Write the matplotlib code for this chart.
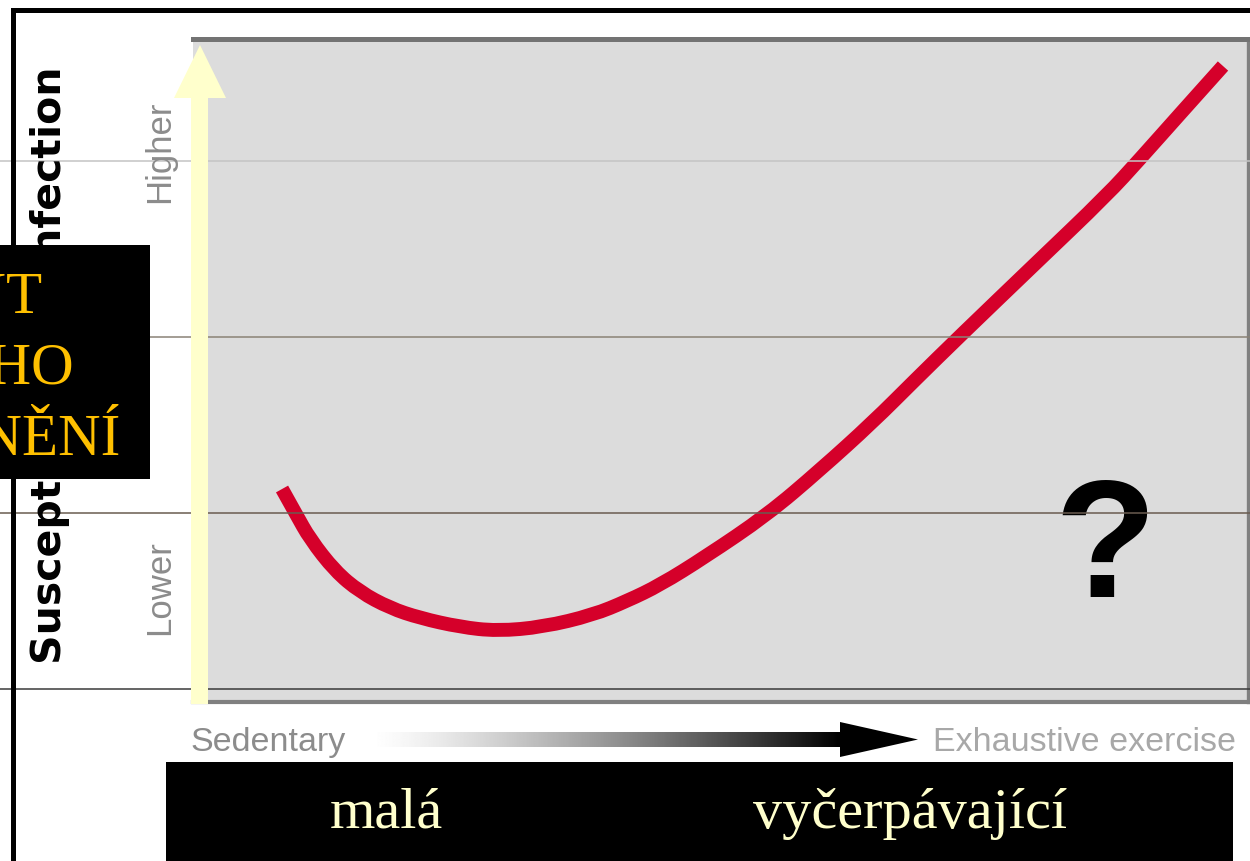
import matplotlib
matplotlib.use("Agg")
import matplotlib.pyplot as plt
from matplotlib.patches import Rectangle, Polygon, PathPatch
from matplotlib.path import Path
import numpy as np

# ---- data (exercise level 0-100 vs susceptibility 0-100) ----
exercise = [8.44, 9.76, 11.09, 13.46, 15.83, 18.67, 21.52, 25.31, 28.82, 33.18,
            37.91, 41.14, 44.27, 48.53, 54.41, 59.43, 64.45, 68.44, 72.70, 79.81,
            86.64, 89.76, 93.55, 97.63]
susceptibility = [32.05, 28.28, 24.51, 19.68, 16.52, 14.10, 12.59, 11.24, 10.63, 11.24,
                  13.05, 15.16, 17.57, 21.79, 28.13, 34.92, 42.16, 48.49, 55.13, 65.99,
                  76.39, 81.83, 88.61, 95.85]
guide_levels = [81.52, 54.98, 28.43, 1.89]
guide_colors = ["#c4c4c4", "#8a8276", "#6a5c50", "#3a3a3a"]

y_label = "Susceptibility to infection"
y_high, y_low = "Higher", "Lower"
x_left_label, x_right_label = "Sedentary", "Exhaustive exercise"
box_lines = ["VÝSKYT", "INFEKČNÍHO", "ONEMOCNĚNÍ"]
bottom_left, bottom_right = "malá", "vyčerpávající"

W, H = 1250, 862
fig = plt.figure(figsize=(W / 100, H / 100), dpi=100)
fig.patch.set_facecolor("white")

# ---- data axes (grey panel) ----
L, R, T, B = 193, 1248, 39.5, 702.5
ax = fig.add_axes([L / W, 1 - B / H, (R - L) / W, (B - T) / H])
ax.set_xlim(0, 100)
ax.set_ylim(0, 100)
ax.set_facecolor("#dcdcdc")
ax.set_xticks([])
ax.set_yticks([])
ax.spines["left"].set_visible(False)
ax.spines["top"].set_color("#737373")
ax.spines["top"].set_linewidth(3.6)
ax.spines["right"].set_color("#808080")
ax.spines["right"].set_linewidth(2.4)
ax.spines["bottom"].set_color("#808080")
ax.spines["bottom"].set_linewidth(3.0)

# smooth curve: quadratic B-spline rendering through the read points
pts = list(zip(exercise, susceptibility))
verts = [pts[0]]
codes = [Path.MOVETO]
for i in range(1, len(pts) - 1):
    mid = ((pts[i][0] + pts[i + 1][0]) / 2, (pts[i][1] + pts[i + 1][1]) / 2)
    verts += [pts[i], mid]
    codes += [Path.CURVE3, Path.CURVE3]
verts.append(pts[-1])
codes.append(Path.LINETO)
ax.add_patch(PathPatch(Path(verts, codes), facecolor="none", edgecolor="#d5002a",
                       lw=10, capstyle="butt", joinstyle="round", zorder=2))

ax.text(86.45, 15.9, "?", fontsize=120, fontweight="bold", family="Liberation Sans",
        ha="center", va="baseline", color="black", zorder=2)

for lev, col in zip(guide_levels, guide_colors):
    ax.axhline(lev, xmin=-L / (R - L), xmax=1 + 2 / (R - L), color=col, lw=1.1,
               clip_on=False, zorder=3)

# ---- overlay in pixel coordinates ----
ov = fig.add_axes([0, 0, 1, 1])
ov.patch.set_alpha(0)
ov.axis("off")

# yellow vertical arrow
ov.add_patch(Polygon([(191, 705), (191, 99), (174, 99), (200, 46), (226, 99),
                      (208, 99), (208, 705)], closed=True, facecolor="#ffffcc",
                     edgecolor="none", zorder=2))

# gradient horizontal arrow
arrow = Polygon([(370, 733), (840, 733), (840, 723), (918, 740.5), (840, 758),
                 (840, 748), (370, 748)], closed=True, facecolor="none",
                edgecolor="none")
ov.add_patch(arrow)
xs = np.linspace(370, 918, 600)
vals = np.clip((xs - 370) / (840 - 370), 0, 1) ** 1.3
im = ov.imshow(vals[None, :], cmap="gray_r", vmin=0, vmax=1,
               extent=[370, 918, 758, 723], aspect="auto", zorder=2,
               interpolation="bilinear")
im.set_clip_path(arrow)

# texts
ov.text(50, 365, y_label, rotation=90, fontsize=29.5, fontweight="bold",
        family="DejaVu Sans", ha="center", va="center", color="black", zorder=2)
ov.text(160, 152, y_high, rotation=90, fontsize=25, family="Liberation Sans",
        ha="center", va="center", color="#8c8c8c", zorder=2)
ov.text(160, 588, y_low, rotation=90, fontsize=25, family="Liberation Sans",
        ha="center", va="center", color="#8c8c8c", zorder=2)
ov.text(190, 751, x_left_label, fontsize=24.5, family="Liberation Sans",
        ha="left", va="baseline", color="#8c8c8c", zorder=2)
ov.text(933, 751, x_right_label, fontsize=24.5, family="Liberation Sans",
        ha="left", va="baseline", color="#a8a8a8", zorder=2)

# frame lines
ov.add_patch(Rectangle((11, 9), W - 11, 4.5, facecolor="black", edgecolor="none", zorder=3))
ov.add_patch(Rectangle((11, 9), 4.5, H - 9, facecolor="black", edgecolor="none", zorder=3))

# black boxes
ov.add_patch(Rectangle((0, 246), 150, 234, facecolor="black", edgecolor="none", zorder=4))
ov.add_patch(Rectangle((166, 763), 1067, 110, facecolor="black", edgecolor="none", zorder=4))

for txt, xr, yb in zip(box_lines, [43, 75, 121], [313, 384, 455]):
    ov.text(xr, yb, txt, fontsize=42.5, family="Liberation Serif", ha="right",
            va="baseline", color="#ffc000", zorder=5)

ov.text(386, 828, bottom_left, fontsize=42, family="Liberation Serif",
        ha="center", va="baseline", color="#ffffcc", zorder=5)
ov.text(910, 828, bottom_right, fontsize=42, family="Liberation Serif",
        ha="center", va="baseline", color="#ffffcc", zorder=5)

ov.set_xlim(0, W)
ov.set_ylim(H, 0)

fig.savefig("out.png", dpi=100)
